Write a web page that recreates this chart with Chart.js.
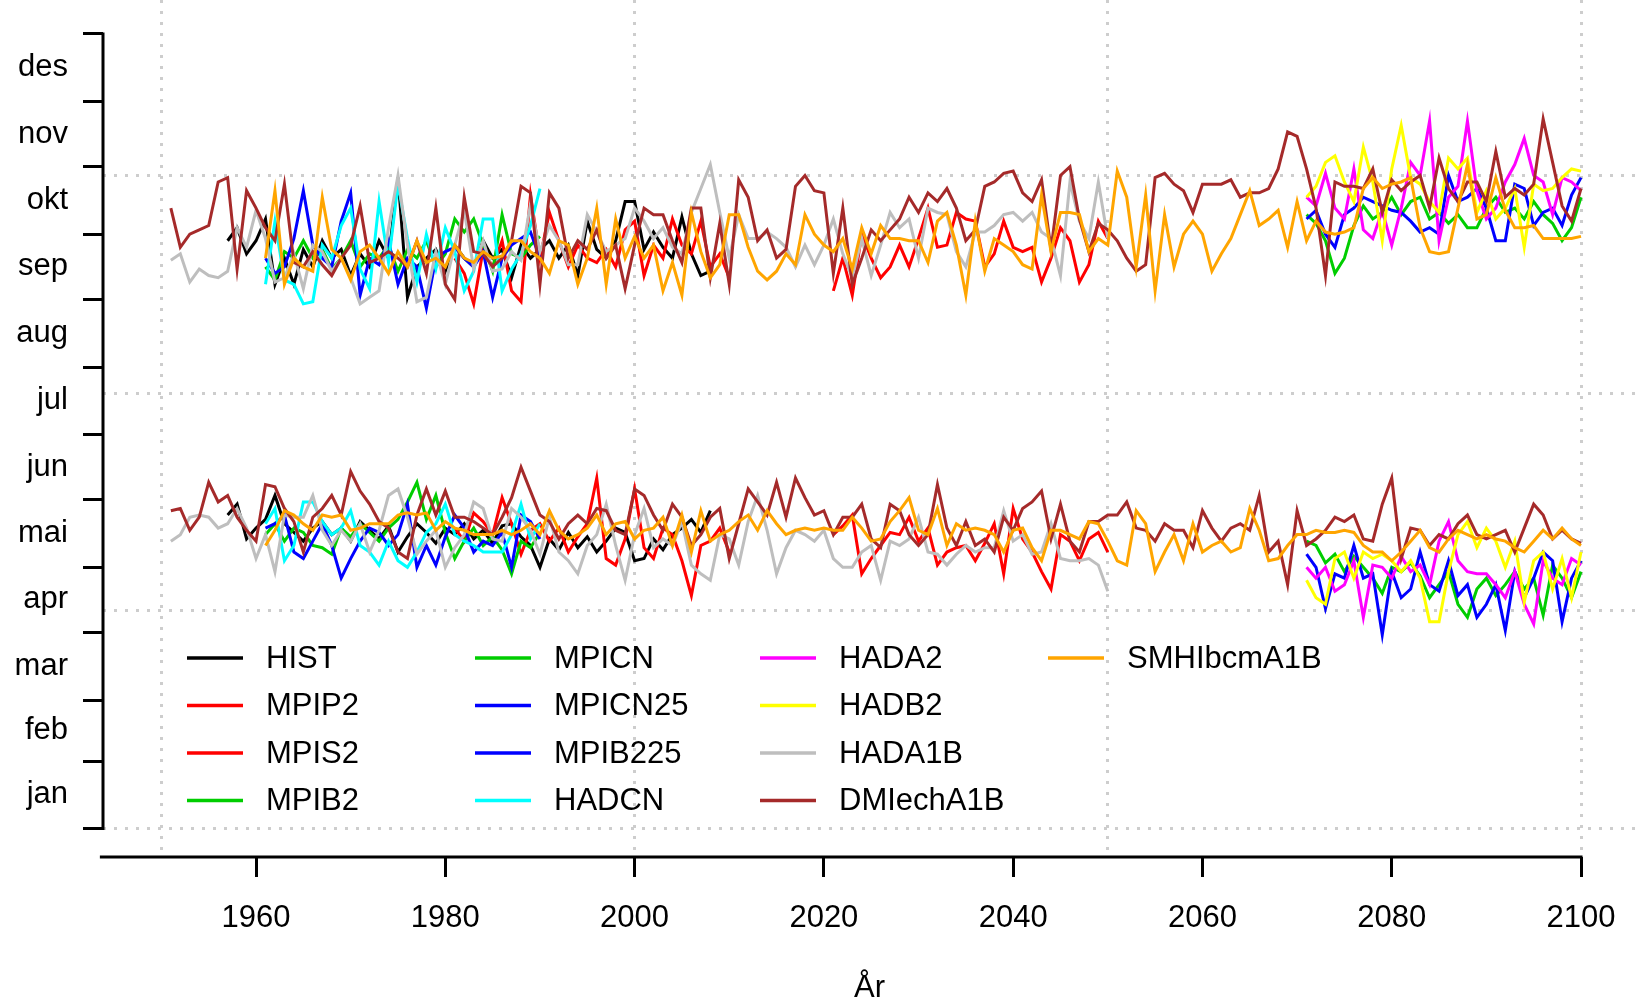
<!DOCTYPE html>
<html><head><meta charset="utf-8">
<script src="https://cdn.jsdelivr.net/npm/chart.js@4/dist/chart.umd.min.js"></script>
<style>html,body{margin:0;padding:0;background:#fff;overflow:hidden}</style>
</head><body><canvas id="c" width="1636" height="1001"></canvas>
<script>
// ---------- axis labels / ticks ----------
const monthLabels = ['jan','feb','mar','apr','mai','jun','jul','aug','sep','okt','nov','des'];
const monthStartDays = [0,31,59,90,120,151,181,212,243,273,304,334,365];
const xTickYears = [1960,1980,2000,2020,2040,2060,2080,2100];
const xGridYears = [1950,2000,2050,2100];
const yGridDays = [0,100,200,300];
const xTitle = 'År';

// ---------- series ----------
const seriesNames  = ['HIST','MPIP2','MPIS2','MPIB2','MPICN','MPICN25','MPIB225','HADCN','HADA2','HADB2','HADA1B','DMIechA1B','SMHIbcmA1B'];
const seriesColors = ['#000000','#FF0000','#FF0000','#00CD00','#00CD00','#0000FF','#0000FF','#00FFFF','#FF00FF','#FFFF00','#BEBEBE','#A52A2A','#FFA500'];
const seriesStart  = [1957,1981,2021,2071,1961,1961,2071,1961,2071,2071,1951,1951,1961];

// autumn (day of year)
const HIST_aut = [270,276,264,270, 280,250,262,250,266,258,270,262,266,254, 264,258,270,262,299,244,258,262,266,256, 268,262,258,270,262,266,253,268,262,266, 270,262,268,254,279,266,262,270,288,288, 266,274,267,262,281,264,254,256];
const MPIP2_aut = [262,255,241,266,258,270,247,242,291,262, 283,270,258,268,262,260,266,258,275,279, 254,268,262,280,268,264,279,258,264,253];
const MPIS2_aut = [247,262,245,273,262,253,258,268,258,271, 285,267,268,283,280,279,258,264,279,267, 265,267,251,262,276,270,251,259,279,271];
const MPIB2_aut = [282,278,270,255,262,277,286,280,283,290, 282,288,290,280,283,278,282,276,276,285, 290,283,285,280,288,282,278,270,276,290];
const MPICN_aut = [258,252,265,262,270,262,266,257,262,270, 258,264,262,268,256,266,262,270,258,264, 280,274,280,268,256,282,264,262,268,272];
const MPICN25_aut = [262,255,258,271,293,268,262,258,279,292, 245,262,259,270,250,262,258,239,262,265, 267,262,258,265,244,262,268,271,274,262];
const MPIB225_aut = [280,284,273,267,282,285,290,288,286,284, 283,279,274,276,273,300,288,290,294,285, 270,270,296,294,277,283,285,277,291,299];
const HADCN_aut = [250,279,252,250,241,242,268,262,277,285, 257,248,288,260,296,271,251,273,257,276, 265,247,256,280,280,247,257,264,277,294];
const HADA2_aut = [290,286,301,285,280,303,275,271,284,268, 285,306,300,325,270,290,295,325,293,280, 285,297,305,317,300,297,282,299,297,293];
const HADB2_aut = [290,295,306,309,297,288,313,297,270,303, 323,299,296,288,283,308,303,308,283,293, 280,285,294,267,296,293,294,299,303,302];
const HADA1B_aut = [261,264,251,257,254,253,256,276,267,284, 271,251,253,264,248,268,265,256,262,253, 241,244,247,276,300,268,242,244,265,250, 268,284,257,270,256,257,265,261,287,265, 277,270,259,259,282,274,265,268,271,285, 279,271,276,267,264,283,294,305,283,262, 282,271,271,274,271,267,258,268,259,268, 280,264,253,271,254,268,283,276,280,262, 285,283,282,265,258,274,274,277,282,283, 279,283,274,271,254,297,279,271,297,271];
const DMI_aut = [285,267,273,275,277,297,299,257,293,285, 276,270,296,260,258,265,259,254,262,268, 286,260,262,265,262,258,270,255,285,250, 243,290,265,264,258,262,270,295,292,250, 292,285,262,270,266,275,262,268,248,268, 285,282,282,270,260,285,285,253,278,250, 298,290,270,275,262,266,295,300,293,292, 255,285,250,262,275,270,275,280,290,283, 292,288,294,285,270,275,295,297,301,302, 292,288,298,266,300,304,280,265,278,275, 270,262,256,259,299,301,296,293,283,296, 296,296,298,290,292,292,294,303,320,318, 303,285,254,297,295,295,294,303,283,298, 293,297,300,285,308,294,288,297,297,288, 311,290,294,291,296,326,306,286,279,294];
const SMHI_aut = [262,293,250,262,258,256,290,266,262,252, 265,268,262,255,265,258,270,260,262,258, 268,262,260,265,262,263,270,270,265,262, 255,270,268,250,262,285,250,280,262,272, 262,268,247,260,245,283,265,253,259,282, 282,267,256,252,256,264,259,282,273,268, 265,271,257,276,264,277,271,271,270,270, 260,279,283,268,245,279,256,271,268,265, 259,257,291,265,283,283,282,265,271,268, 302,290,258,291,247,282,258,273,279,273, 256,264,271,282,293,277,280,284,267,288, 270,279,274,273,274,276,294,299,294,296, 297,299,276,265,264,265,285,305,280,282, 299,284,276,276,277,271,271,271,271,272];

// spring (day of year)
const HIST_spr = [144,149,133,138, 142,153,140,136,132,138,141,135,138,132, 141,137,133,139,127,134,140,136,131,138, 135,140,133,137,131,139,140,134,130,120, 133,128,136,129,134,127,132,138,136,123, 124,133,128,135,138,142,136,146];
const MPIP2_spr = [138,132,145,141,135,152,140,126,137,140, 132,138,127,134,140,161,124,121,133,156, 129,124,138,135,123,107,130,132,138,127];
const MPIS2_spr = [135,139,144,117,124,130,136,135,143,132, 138,121,127,129,130,123,131,140,117,147, 133,127,118,110,135,132,123,133,136,127];
const MPIB2_spr = [132,130,122,126,118,125,120,115,108,120, 118,122,116,106,112,118,103,97,110,115, 107,112,118,110,115,98,121,115,106,118];
const MPICN_spr = [135,140,132,138,136,130,129,126,138,134, 140,136,132,138,142,150,159,142,153,136, 124,132,138,130,134,128,117,132,129,136];
const MPICN25_spr = [138,140,144,127,124,132,140,130,115,124, 132,138,136,130,135,149,120,130,121,134, 144,138,127,132,130,136,120,144,141,133];
const MPIB225_spr = [126,120,101,117,115,130,115,117,89,118, 106,110,127,112,109,123,107,112,97,103, 112,91,118,106,115,127,123,95,115,123];
const HADCN_spr = [140,147,123,130,150,150,141,135,138,146, 130,127,121,132,123,120,127,136,140,149, 135,132,130,127,127,127,135,149,133,140];
const HADA2_spr = [120,115,120,109,112,123,97,121,120,115, 125,118,121,112,132,141,123,118,117,117, 112,106,118,103,94,123,115,112,124,121];
const HADB2_spr = [114,106,103,124,127,115,127,124,126,123, 118,123,115,95,95,118,135,141,129,138, 132,120,132,104,123,127,110,124,106,127];
const HADA1B_spr = [132,135,143,144,143,138,140,147,138,124, 135,118,144,143,143,153,137,130,137,132, 140,127,137,153,156,143,126,132,137,120, 129,135,150,147,133,132,147,143,137,126, 143,127,123,117,130,135,149,130,114,135, 147,129,133,130,141,121,117,114,135,133, 121,141,153,137,117,129,137,135,132,137, 124,120,120,127,130,114,132,130,133,143, 127,126,121,126,130,127,129,129,146,132, 135,126,127,140,124,123,123,124,121,109];
const DMI_spr = [146,147,137,143,159,150,153,143,137,132, 158,157,147,141,127,143,147,153,144,164, 155,149,141,138,127,124,144,156,144,155, 143,143,141,138,135,143,152,166,155,144, 141,133,140,144,140,147,146,137,135,156, 153,144,137,149,143,130,135,143,147,124, 140,156,150,144,159,143,161,152,144,146, 135,143,143,149,133,129,149,146,135,130, 135,158,138,130,141,130,133,127,143,137, 147,150,155,133,149,132,127,141,141,144, 144,150,138,137,132,140,137,137,129,146, 138,132,138,140,137,153,127,132,112,146, 130,133,137,143,141,144,133,132,149,161, 124,138,137,130,135,133,140,144,135,133, 135,137,127,138,149,144,133,137,133,131];
const SMHI_spr = [130,137,146,144,140,137,144,143,144,137, 138,140,140,140,144,145,144,145,137,141, 138,137,135,135,135,137,135,137,140,135, 146,137,133,135,138,144,135,140,141,133, 137,138,143,130,144,127,146,132,135,137, 141,144,137,146,140,135,137,138,137,138, 137,137,143,138,132,133,141,146,152,137, 135,147,130,140,137,138,137,135,127,137, 138,129,123,137,137,135,133,141,140,132, 123,121,146,140,118,127,135,123,140,127, 130,132,127,129,147,137,123,124,130,135, 135,137,136,136,137,136,130,127,127,123, 127,132,137,129,127,133,137,135,133,135, 133,132,129,127,132,137,133,138,133,130];

const autumnSeries = [HIST_aut,MPIP2_aut,MPIS2_aut,MPIB2_aut,MPICN_aut,MPICN25_aut,MPIB225_aut,HADCN_aut,HADA2_aut,HADB2_aut,HADA1B_aut,DMI_aut,SMHI_aut];
const springSeries = [HIST_spr,MPIP2_spr,MPIS2_spr,MPIB2_spr,MPICN_spr,MPICN25_spr,MPIB225_spr,HADCN_spr,HADA2_spr,HADB2_spr,HADA1B_spr,DMI_spr,SMHI_spr];

// ---------- chart ----------
const FONT = 'Liberation Sans, Arial, sans-serif';
const FS = 31;
const X_MIN = 1943.83, X_MAX = 2105.81, X_AXIS_FROM = 1943.5;
const Y_MIN = -13.1, Y_MAX = 380.6;
const N = seriesNames.length;

function pts(arr, start){ return arr.map((v,i)=>({x:start+i, y:v})); }
const datasets = [];
for (let i=0;i<N;i++){
  [autumnSeries[i], springSeries[i]].forEach(arr=>{
    datasets.push({
      label: seriesNames[i], data: pts(arr, seriesStart[i]),
      borderColor: seriesColors[i], backgroundColor: seriesColors[i],
      borderWidth: 3, pointRadius: 0, tension: 0, fill: false,
      order: N - i, xAxisID: 'x', yAxisID: 'y'
    });
  });
}
const monthMids = monthLabels.map((m,i)=>(monthStartDays[i]+monthStartDays[i+1])/2);
const isMid = v => monthMids.some(m=>Math.abs(m-v)<1e-6);

const decor = {
  id: 'decor',
  afterDraw(chart){
    const ctx = chart.ctx, xs = chart.scales.x, ys = chart.scales.y;
    ctx.save();
    ctx.strokeStyle = '#000'; ctx.lineWidth = 3; ctx.lineCap = 'butt';
    const xa = chart.chartArea.left;
    ctx.beginPath();
    ctx.moveTo(xa, ys.getPixelForValue(monthStartDays[0]) + 1.5);
    ctx.lineTo(xa, ys.getPixelForValue(monthStartDays[12]) - 1.5);
    ctx.stroke();
    const yb = chart.chartArea.bottom;
    ctx.beginPath();
    ctx.moveTo(xs.getPixelForValue(X_AXIS_FROM), yb);
    ctx.lineTo(xs.getPixelForValue(xTickYears[xTickYears.length-1]) + 1.5, yb);
    ctx.stroke();
    // legend (4 rows, column-major)
    const colX = [187, 475, 760, 1048], rowY0 = 658, rowStep = 47.5;
    ctx.font = FS + 'px ' + FONT; ctx.textBaseline = 'middle'; ctx.textAlign = 'left';
    for (let i=0;i<N;i++){
      const cx = colX[Math.floor(i/4)], cy = rowY0 + (i%4)*rowStep;
      ctx.strokeStyle = seriesColors[i]; ctx.lineWidth = 3.5;
      ctx.beginPath(); ctx.moveTo(cx, cy); ctx.lineTo(cx+56, cy); ctx.stroke();
      ctx.fillStyle = '#000';
      ctx.fillText(seriesNames[i], cx+79, cy+1);
    }
    ctx.restore();
  }
};

new Chart(document.getElementById('c'), {
  type: 'line',
  data: { datasets },
  options: {
    responsive: false, animation: false, devicePixelRatio: 1,
    layout: { padding: 0 },
    plugins: { legend: { display: false }, tooltip: { enabled: false }, title: { display: false } },
    scales: {
      x: {
        type: 'linear', position: 'bottom', min: X_MIN, max: X_MAX,
        afterBuildTicks: s => { s.ticks = xTickYears.map(v=>({value:v})); },
        afterFit: s => { s.height = 144; s.paddingLeft = 0; s.paddingRight = 0; },
        grid: { drawOnChartArea: false, drawTicks: true, tickLength: 20, tickWidth: 3, tickColor: '#000' },
        border: { display: false },
        ticks: { autoSkip: false, maxRotation: 0, padding: 23, color: '#000', font: { family: FONT, size: FS }, callback: v => String(v) },
        title: { display: true, text: xTitle, color: '#000', font: { family: FONT, size: FS, lineHeight: 0.8 }, padding: { top: 0, bottom: 0 } }
      },
      xg: {
        axis: 'x', type: 'linear', position: 'top', min: X_MIN, max: X_MAX,
        afterBuildTicks: s => { s.ticks = xGridYears.map(v=>({value:v})); },
        afterFit: s => { s.height = 0; s.paddingLeft = 0; s.paddingRight = 0; },
        ticks: { display: false },
        grid: { drawOnChartArea: true, drawTicks: false, color: '#CDCDCD', lineWidth: 3 },
        border: { display: false, dash: [3, 8] }
      },
      y: {
        type: 'linear', position: 'left', min: Y_MIN, max: Y_MAX,
        afterBuildTicks: s => {
          const t = [];
          monthStartDays.forEach((d,i)=>{ t.push({value:d}); if (i<12) t.push({value:monthMids[i]}); });
          s.ticks = t;
        },
        afterFit: s => { s.width = 103; s.paddingTop = 0; s.paddingBottom = 0; },
        grid: { drawOnChartArea: false, drawTicks: true, tickLength: 20, tickWidth: 3,
                tickColor: c => (c.tick && isMid(c.tick.value)) ? 'rgba(0,0,0,0)' : '#000' },
        border: { display: false },
        ticks: { autoSkip: false, padding: 15, color: '#000',
                 font: c => (c.tick && isMid(c.tick.value)) ? { family: FONT, size: FS } : { family: FONT, size: 1 },
                 callback: v => { const k = monthMids.findIndex(m=>Math.abs(m-v)<1e-6); return k>=0 ? monthLabels[k] : ''; } }
      },
      yg: {
        axis: 'y', type: 'linear', position: 'right', min: Y_MIN, max: Y_MAX,
        afterBuildTicks: s => { s.ticks = yGridDays.map(v=>({value:v})); },
        afterFit: s => { s.width = 0; s.paddingTop = 0; s.paddingBottom = 0; },
        ticks: { display: false },
        grid: { drawOnChartArea: true, drawTicks: false, color: '#CDCDCD', lineWidth: 3 },
        border: { display: false, dash: [3, 8] }
      }
    }
  },
  plugins: [decor]
});
</script>
</body></html>
